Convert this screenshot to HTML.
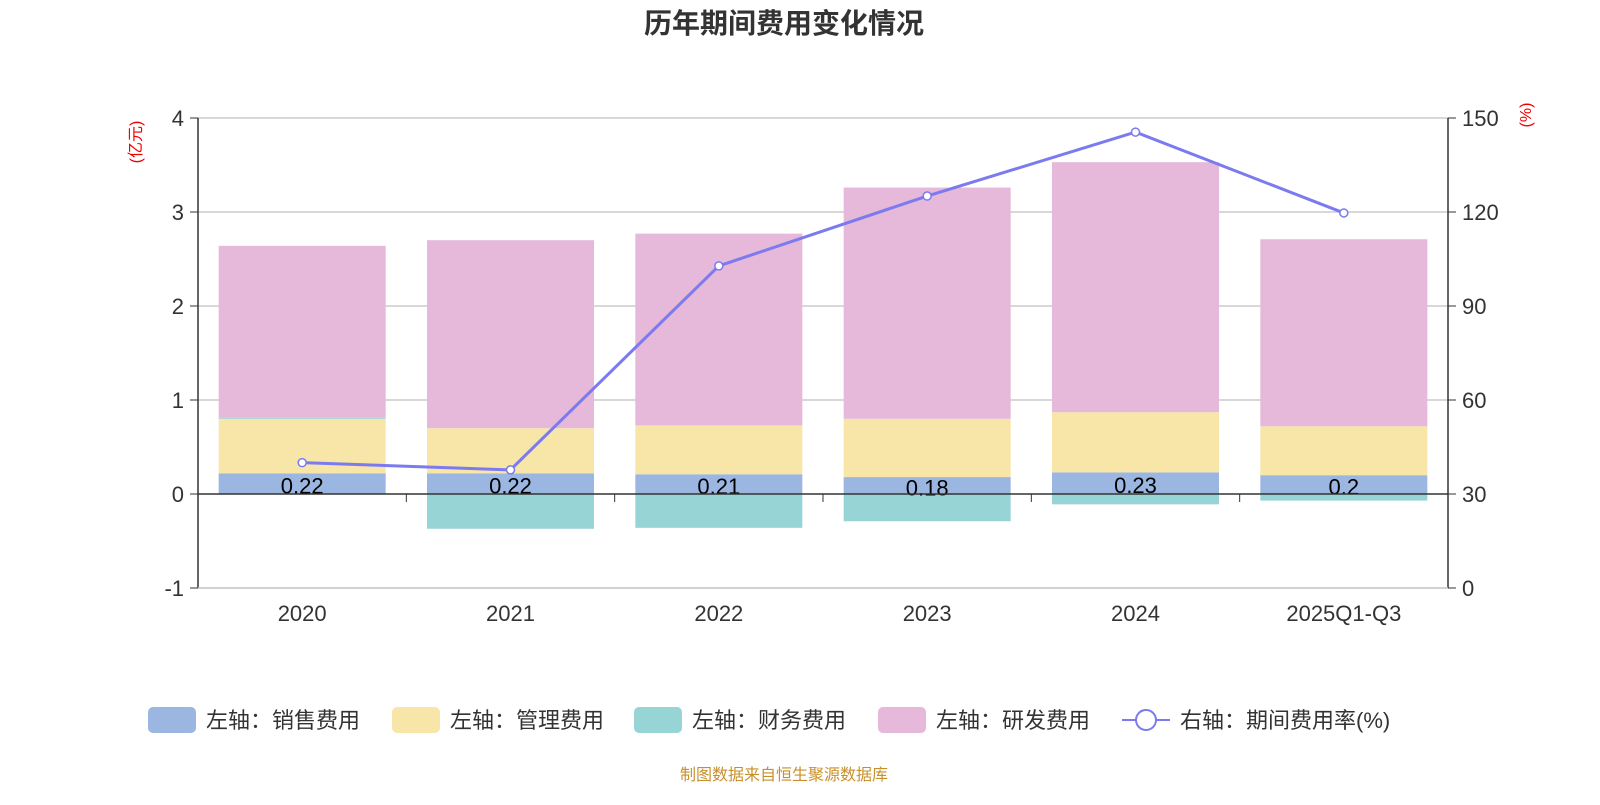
<!DOCTYPE html>
<html><head><meta charset="utf-8"><style>
body{margin:0;background:#fff;}
svg text{font-family:"Liberation Sans","Noto Sans CJK SC",sans-serif;}
</style></head><body>
<svg id="c" width="1600" height="800"></svg>
<script>
const categories=["2020","2021","2022","2023","2024","2025Q1-Q3"];
const sales=[0.22,0.22,0.21,0.18,0.23,0.2];
const mgmt=[0.58,0.48,0.52,0.62,0.64,0.52];
const finance=[0.01,-0.37,-0.36,-0.29,-0.11,-0.07];
const rnd=[1.83,2.00,2.04,2.46,2.66,1.99];
const rate=[40.0,37.7,102.8,125.1,145.5,119.7];
const leftTicks=[-1,0,1,2,3,4];
const rightTicks=[0,30,60,90,120,150];

const NS="http://www.w3.org/2000/svg";
const svg=document.getElementById('c');
function el(t,a,p){const e=document.createElementNS(NS,t);for(const k in a)e.setAttribute(k,a[k]);(p||svg).appendChild(e);return e;}
const X0=198,X1=1448,bw=(X1-X0)/categories.length;
const yL=v=>494-v*94;
const yR=v=>588-v*470/150;
const xc=i=>X0+bw*(i+0.5);

let t=el('text',{x:784,y:33,'text-anchor':'middle','font-size':28,'font-weight':'bold',fill:'#333'});t.textContent='历年期间费用变化情况';

t=el('text',{x:0,y:0,transform:'translate(141,142) rotate(-90)','text-anchor':'middle','font-size':16,fill:'#e00'});t.textContent='(亿元)';

t=el('text',{x:0,y:0,transform:'translate(1531,115) rotate(-90)','text-anchor':'middle','font-size':16,fill:'#e00'});t.textContent='(%)';


leftTicks.forEach((v,i)=>{
  const y=yL(v);
  if(v!==0){const g=el('line',{x1:X0,x2:X1,y1:y,y2:y,stroke:'#ccc','stroke-width':1.5});}
  el('line',{x1:X0-8,x2:X0,y1:y,y2:y,stroke:'#333'});
  const tx=el('text',{x:X0-14,y:y+8,'text-anchor':'end','font-size':22,fill:'#333'});tx.textContent=v;
  
});
rightTicks.forEach(v=>{
  const y=yR(v);
  el('line',{x1:X1,x2:X1+8,y1:y,y2:y,stroke:'#333'});
  const tx=el('text',{x:X1+14,y:y+8,'font-size':22,fill:'#333'});tx.textContent=v;
  
});
el('line',{x1:X0,x2:X0,y1:yL(4),y2:yL(-1),stroke:'#333','stroke-width':1.5});
el('line',{x1:X1,x2:X1,y1:yR(150),y2:yR(0),stroke:'#333','stroke-width':1.5});

const BW=167;
categories.forEach((c,i)=>{
  const x=xc(i)-BW/2;
  let base=0;
  [[sales,'#9bb6e0','bar-sales'],[mgmt,'#f7e6a8','bar-mgmt']].forEach(([arr,col,n])=>{
    const r=el('rect',{x:x,y:yL(base+arr[i]),width:BW,height:arr[i]*94,fill:col});
    
    base+=arr[i];
  });
  let fy,fh;
  if(finance[i]>=0){fy=yL(base+finance[i]);fh=finance[i]*94;base+=finance[i];}else{fy=yL(0);fh=-finance[i]*94;}
  let r=el('rect',{x:x,y:fy,width:BW,height:fh,fill:'#97d4d6'});
  
  r=el('rect',{x:x,y:yL(base+rnd[i]),width:BW,height:rnd[i]*94,fill:'#e6b8d9'});
  
  const lb=el('text',{x:xc(i),y:yL(sales[i]/2)+4+6,'text-anchor':'middle','font-size':22,fill:'#000'});lb.textContent=sales[i];
  
  const cl=el('text',{x:xc(i),y:621,'text-anchor':'middle','font-size':22,fill:'#333'});cl.textContent=c;
  
});
el('line',{x1:X0,x2:X1,y1:yL(0),y2:yL(0),stroke:'#333','stroke-width':1.5});
for(let i=1;i<categories.length;i++){el('line',{x1:X0+bw*i,x2:X0+bw*i,y1:yL(0),y2:yL(0)+8,stroke:'#333'});}
el('line',{x1:X0,x2:X1,y1:yL(-1),y2:yL(-1),stroke:'#ccc','stroke-width':1.5});

const pl=el('polyline',{points:rate.map((v,i)=>xc(i)+','+yR(v)).join(' '),fill:'none',stroke:'#7b7bef','stroke-width':3});

rate.forEach((v,i)=>{const p=el('circle',{cx:xc(i),cy:yR(v),r:4,fill:'#fff',stroke:'#7b7bef','stroke-width':1.5});
});

const leg=[[148,'#9bb6e0','左轴：销售费用','legend-sales'],[392,'#f7e6a8','左轴：管理费用','legend-mgmt'],[634,'#97d4d6','左轴：财务费用','legend-finance'],[878,'#e6b8d9','左轴：研发费用','legend-rnd']];
leg.forEach(([x,col,txt,n])=>{
  const g=el('g',{});
  el('rect',{x:x,y:707,width:48,height:26,rx:5,fill:col},g);
  const tt=el('text',{x:x+58,y:728,'font-size':22,fill:'#333'},g);tt.textContent=txt;
});
const g=el('g',{});
el('line',{x1:1122,x2:1170,y1:720,y2:720,stroke:'#7b7bef','stroke-width':2},g);
el('circle',{cx:1146,cy:720,r:10,fill:'#fff',stroke:'#7b7bef','stroke-width':2},g);
t=el('text',{x:1180,y:728,'font-size':22,fill:'#333'},g);t.textContent='右轴：期间费用率(%)';
t=el('text',{x:784,y:780,'text-anchor':'middle','font-size':16,fill:'#c8902a'});t.textContent='制图数据来自恒生聚源数据库';

</script>
</body></html>
